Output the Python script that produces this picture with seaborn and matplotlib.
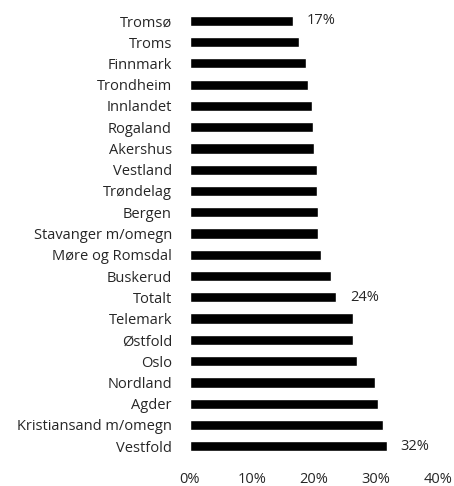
import matplotlib
matplotlib.use("Agg")
import matplotlib.pyplot as plt
import seaborn as sns
import pandas as pd

# Andel per region (prosent)
regioner = ["Tromsø", "Troms", "Finnmark", "Trondheim", "Innlandet", "Rogaland",
            "Akershus", "Vestland", "Trøndelag", "Bergen", "Stavanger m/omegn",
            "Møre og Romsdal", "Buskerud", "Totalt", "Telemark", "Østfold", "Oslo",
            "Nordland", "Agder", "Kristiansand m/omegn", "Vestfold"]
andel = [16.6, 17.6, 18.7, 19.1, 19.6, 19.9, 20.0, 20.4, 20.5, 20.7, 20.7,
         21.1, 22.8, 23.6, 26.2, 26.3, 26.9, 29.9, 30.3, 31.1, 31.7]
merket = ["Tromsø", "Totalt", "Vestfold"]
x_ticks = [0, 10, 20, 30, 40]

df = pd.DataFrame({"Region": regioner, "Andel": andel})

sns.set_style("white")
plt.rcParams["font.family"] = ["Open Sans", "DejaVu Sans"]

fig = plt.figure(figsize=(4.54, 4.86), dpi=100)
ax = fig.add_axes([0.4185, 0.06, 0.5465, 0.919])

sns.barplot(data=df, x="Andel", y="Region", color="black", width=0.48,
            saturation=1, ax=ax)

# verdier paa utvalgte stolper
for i, (r, v) in enumerate(zip(regioner, andel)):
    if r in merket:
        ax.annotate(f"{round(v)}%", xy=(v, i), xytext=(10, 0),
                    textcoords="offset points", va="center", ha="left",
                    fontsize=10.5)

ax.set_xlim(0, 40)
ax.set_xticks(x_ticks)
ax.set_xticklabels([f"{t}%" for t in x_ticks])
ax.set_xlabel("")
ax.set_ylabel("")
ax.tick_params(axis="both", length=0, labelsize=10.5)
ax.tick_params(axis="x", pad=11)
ax.tick_params(axis="y", pad=13)
sns.despine(left=True, bottom=True)

fig.savefig("out.png", dpi=100)
